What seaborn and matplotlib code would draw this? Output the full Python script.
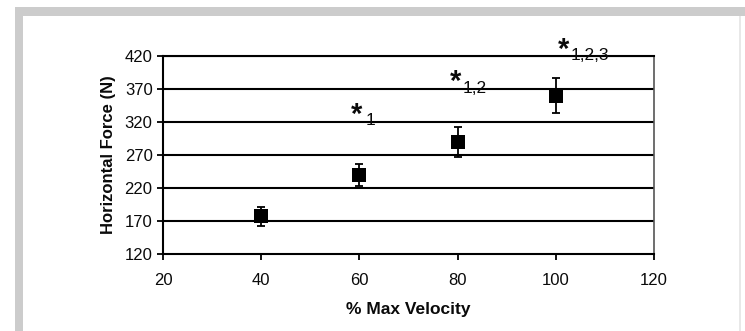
import matplotlib
matplotlib.use("Agg")
import matplotlib.pyplot as plt
import seaborn as sns
import pandas as pd
from matplotlib.patches import Rectangle

# ---- data ----
velocity = [40, 60, 80, 100]
force = [177, 240, 290, 360]
force_err = [14, 17, 23, 27]
sig_labels = ["1", "1,2", "1,2,3"]
sig_x = [60, 80, 100]
x_ticks = [20, 40, 60, 80, 100, 120]
y_ticks = [120, 170, 220, 270, 320, 370, 420]

df = pd.DataFrame({"velocity": velocity, "force": force, "err": force_err})

sns.set_theme(style="white")
plt.rcParams["font.family"] = ["Liberation Sans", "DejaVu Sans"]

W, H = 745, 331
fig = plt.figure(figsize=(W / 100, H / 100), dpi=100)
fig.patch.set_facecolor("white")
ax = fig.add_axes([163 / W, 1 - 254 / H, (654 - 163) / W, (254 - 56) / H])

# gray frame
gray = "#cccccc"
fig.patches.append(Rectangle((15 / W, 1 - 16 / H), 1, 9 / H, transform=fig.transFigure,
                             facecolor=gray, edgecolor="none", zorder=0))
fig.patches.append(Rectangle((15 / W, 0), 8 / W, 1 - 7 / H, transform=fig.transFigure,
                             facecolor=gray, edgecolor="none", zorder=0))
fig.patches.append(Rectangle((739 / W, 0), 1.5 / W, 1 - 16 / H, transform=fig.transFigure,
                             facecolor="#e8e8e8", edgecolor="none", zorder=0))

# horizontal grid lines
for yv in y_ticks[1:]:
    ax.axhline(yv, color="black", lw=1.5, zorder=1)

ax.errorbar(df["velocity"], df["force"], yerr=df["err"], fmt="none",
            ecolor="black", elinewidth=1.3, capsize=3, capthick=1.3, zorder=2)
sns.scatterplot(data=df, x="velocity", y="force", marker="s", s=95,
                color="black", edgecolor="black", linewidth=0, ax=ax, zorder=3)

ax.set_xlim(20, 120)
ax.set_ylim(120, 420)
ax.set_xticks(x_ticks)
ax.set_yticks(y_ticks)
ax.set_xticklabels([str(v) for v in x_ticks])
ax.set_yticklabels([str(v) for v in y_ticks])

for s in ax.spines.values():
    s.set_visible(True)
    s.set_color("black")
    s.set_linewidth(1.5)
ax.spines["right"].set_color("#555555")
ax.spines["right"].set_linewidth(1.2)

ax.tick_params(axis="both", which="major", direction="out", length=4.5, width=1.3,
               color="black", labelsize=12, labelcolor="#0a0a0a",
               bottom=True, left=True)
ax.tick_params(axis="x", pad=9)
ax.tick_params(axis="y", pad=3)

ax.set_xlabel("% Max Velocity", fontsize=12.5, fontweight="bold", labelpad=10, color="#0a0a0a")
ax.set_ylabel("Horizontal Force (N)", fontsize=12, fontweight="bold", labelpad=6, color="#0a0a0a")

# significance annotations
star_pos = [(59.4, 330), (79.5, 380.6), (101.5, 428.7)]
sub_pos = [(61.2, 322), (81.0, 371), (103.0, 420.5)]
for (sx, sy), (tx, ty), lab in zip(star_pos, sub_pos, sig_labels):
    ax.text(sx, sy, "*", fontsize=21, fontweight="bold", ha="center", va="center",
            color="#0a0a0a", clip_on=False)
    ax.text(tx, ty, lab, fontsize=12.5, ha="left", va="center", color="#0a0a0a",
            clip_on=False)

fig.savefig("out.png", dpi=100)
